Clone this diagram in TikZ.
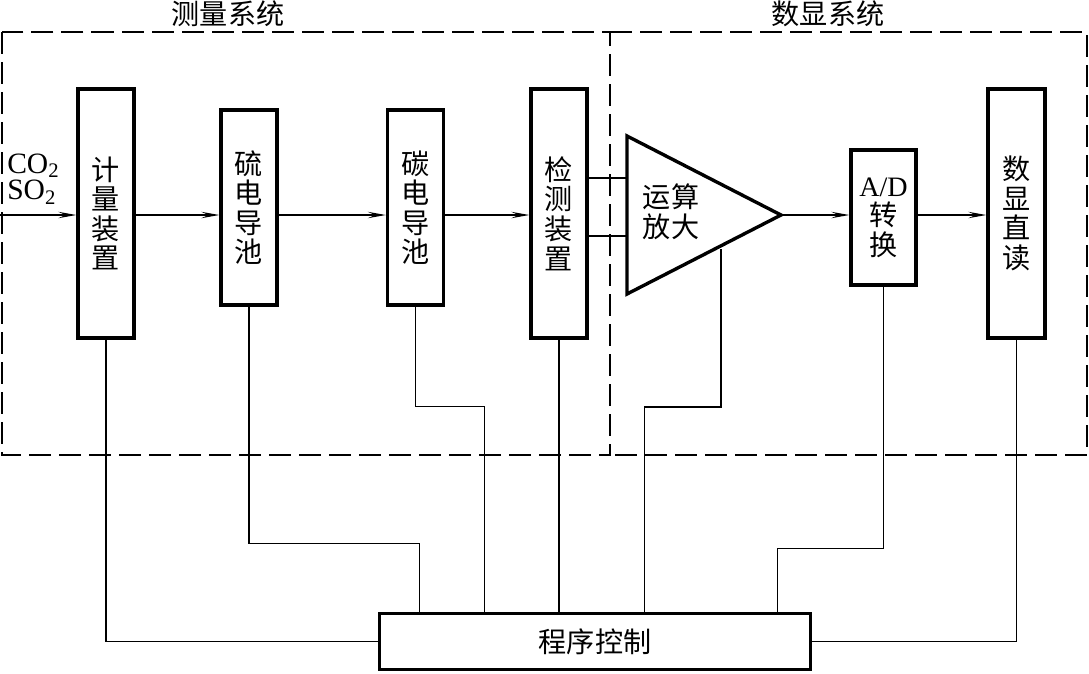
\documentclass[tikz,border=0pt]{standalone}
\usepackage{fontspec}
\setmainfont{Liberation Serif}
\newfontfamily\cjk{Noto Sans CJK SC}
\usetikzlibrary{arrows.meta, calc}

\begin{document}
\begin{tikzpicture}[
    x=0.025cm, y=-0.025cm,
    font=\cjk\fontsize{20}{21}\selectfont,
    block/.style={
        rectangle, draw, line width=2.4pt, fill=white,
        minimum width=1.4cm, inner sep=0pt, align=center
    },
    frame/.style={line width=1.3pt, dash pattern=on 0.55cm off 0.2cm},
    wire/.style={line width=1pt},
    arrow/.style={-{Stealth[length=4.5mm,width=1.6mm,inset=1.8mm]}, line width=1pt}
]
\useasboundingbox (0,0) rectangle (1089,673);

% Frames
\draw[frame] (2,32) rectangle (610,455);
\draw[frame] (610,32) -- (1087,32) -- (1087,455) -- (610,455);
\node (meastitle) at (228,14) {测量系统};
\node (disptitle) at (828,14) {数显系统};

% Nodes
\node[block, minimum height=6.225cm] (meter) at (106,213.5) {计\\量\\装\\置};
\node[block, minimum height=4.875cm] (sulfur) at (249,207.5) {硫\\电\\导\\池};
\node[block, minimum height=4.875cm] (carbon) at (415.5,207.5) {碳\\电\\导\\池};
\node[block, minimum height=6.225cm] (detect) at (559,213.5) {检\\测\\装\\置};
\node[block, minimum width=1.625cm, minimum height=3.375cm] (adc) at (883.5,217.5) {{\rmfamily A/D}\\转\\换};
\node[block, minimum width=1.425cm, minimum height=6.225cm] (display) at (1016.5,213.5) {数\\显\\直\\读};
\node[block, minimum width=10.775cm, minimum height=1.4cm] (control) at (595,641.5) {程序控制};

% Amplifier
\coordinate (amptop) at (627,136);
\coordinate (ampbot) at (627,294);
\coordinate (amptip) at (781,215);
\draw[line width=2.4pt, line join=miter] (amptop) -- (amptip) -- (ampbot) -- cycle;
\node[align=center] (amp) at (671,212) {运算\\放大};

% Input
\coordinate (gasin) at (0,215);
\node[anchor=west, align=left, inner sep=0pt,
      font=\rmfamily\fontsize{21}{19}\selectfont] (gas) at (7,179) {CO\textsubscript{2}\\SO\textsubscript{2}};

% Paths
\draw[arrow] (gasin) -- (gasin -| meter.west);
\draw[arrow] (gasin -| meter.east) -- (gasin -| sulfur.west);
\draw[arrow] (gasin -| sulfur.east) -- (gasin -| carbon.west);
\draw[arrow] (gasin -| carbon.east) -- (gasin -| detect.west);
\draw[arrow] (amptip) -- (amptip -| adc.west);
\draw[arrow] (gasin -| adc.east) -- (gasin -| display.west);

\coordinate (ampin1) at (627,178);
\coordinate (ampin2) at (627,236);
\draw[wire] (ampin1 -| detect.east) -- (ampin1);
\draw[wire] (ampin2 -| detect.east) -- (ampin2);

% Control lines
\coordinate (ampctl) at (721,249);
\draw[wire] (meter.south) |- (control.west);
\draw[wire] (sulfur.south) -- ++(0,237) -| ($(control.north west)+(41.5,0)$);
\draw[wire] (carbon.south) -- ++(0,100) -| ($(control.north west)+(106.5,0)$);
\draw[wire] (detect.south) -- (detect.south |- control.north);
\draw[wire] (ampctl) -- ++(0,158) -| ($(control.north west)+(266.5,0)$);
\draw[wire] (adc.south) -- ++(0,262) -| ($(control.north west)+(399.5,0)$);
\draw[wire] (display.south) |- (control.east);

\end{tikzpicture}
\end{document}
